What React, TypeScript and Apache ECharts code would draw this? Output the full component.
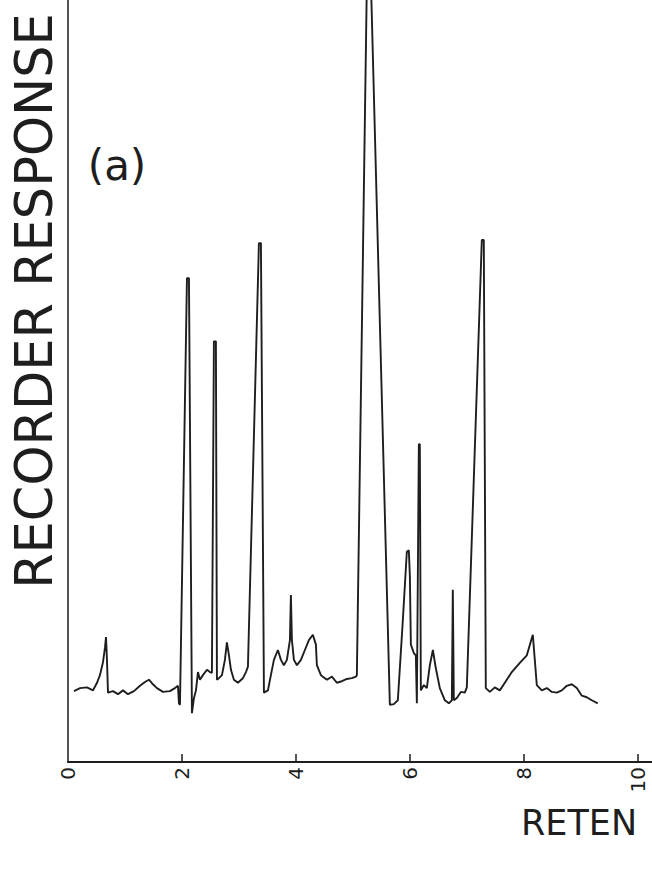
import React, { useEffect, useRef } from "react";
import * as echarts from "echarts";

// Retention time (x) and recorder response (y, arbitrary 0-100 units)
const retentionTime = [
  0.105, 0.211, 0.333, 0.439, 0.509, 0.561, 0.614, 0.649, 0.667, 0.684, 0.702, 0.789, 0.877, 0.965,
  1.053, 1.158, 1.263, 1.351, 1.421, 1.491, 1.561, 1.667, 1.789, 1.877, 1.93, 1.947, 1.965, 2.088,
  2.123, 2.175, 2.211, 2.246, 2.281, 2.316, 2.368, 2.439, 2.491, 2.526, 2.561, 2.596, 2.614, 2.649,
  2.702, 2.754, 2.789, 2.825, 2.86, 2.912, 2.982, 3.07, 3.123, 3.158, 3.351, 3.386, 3.439, 3.509,
  3.561, 3.614, 3.684, 3.737, 3.789, 3.842, 3.895, 3.912, 3.93, 3.965, 4.018, 4.088, 4.158, 4.228,
  4.298, 4.351, 4.368, 4.439, 4.544, 4.632, 4.719, 4.807, 4.895, 4.982, 5.053, 5.07, 5.246, 5.316,
  5.649, 5.719, 5.789, 5.877, 5.947, 5.982, 6.0, 6.018, 6.07, 6.105, 6.123, 6.158, 6.175, 6.193,
  6.246, 6.298, 6.351, 6.404, 6.456, 6.526, 6.614, 6.684, 6.737, 6.754, 6.772, 6.825, 6.895, 6.965,
  7.0, 7.263, 7.298, 7.333, 7.404, 7.491, 7.579, 7.667, 7.789, 7.93, 8.053, 8.158, 8.193, 8.228,
  8.316, 8.404, 8.491, 8.579, 8.667, 8.754, 8.842, 8.93, 9.018, 9.105, 9.193, 9.298,
];

const response = [
  9.3, 9.7, 9.8, 9.4, 10.4, 11.4, 13.1, 15.0, 16.4, 13.4, 9.1, 9.3, 8.9, 9.4,
  8.9, 9.3, 10.0, 10.5, 10.8, 10.2, 9.7, 9.2, 9.3, 9.7, 10.0, 7.7, 7.5, 63.5,
  63.5, 6.4, 8.4, 9.4, 11.8, 10.8, 11.4, 12.1, 11.8, 11.7, 55.2, 55.2, 10.8, 11.0,
  11.4, 13.4, 15.7, 14.0, 12.1, 10.8, 10.4, 11.0, 11.8, 12.5, 68.1, 68.1, 9.1, 9.4,
  11.4, 13.4, 14.7, 13.4, 12.7, 13.4, 16.0, 21.9, 16.0, 13.4, 12.7, 13.4, 14.7, 16.0,
  16.7, 15.4, 12.7, 11.4, 10.8, 11.2, 10.4, 10.6, 10.9, 11.0, 11.2, 11.4, 102.6, 102.6,
  7.5, 7.6, 8.1, 18.6, 27.6, 27.8, 24.5, 15.4, 14.3, 14.0, 7.7, 41.7, 41.7, 9.4,
  10.1, 9.7, 12.7, 14.7, 12.3, 9.7, 8.1, 7.7, 8.1, 22.6, 8.1, 8.4, 9.2, 9.1,
  9.8, 68.5, 68.5, 9.7, 9.2, 9.8, 9.4, 10.4, 11.8, 13.0, 14.0, 16.7, 13.4, 10.1,
  9.4, 9.7, 9.2, 9.1, 9.4, 10.0, 10.2, 9.7, 8.7, 8.5, 8.1, 7.7,
];

const xTickValues = [2, 4, 6, 8, 10];
const xLabelValues = [0, 2, 4, 6, 8, 10];

const yTitle = "RECORDER RESPONSE";
const xTitle = "RETEN";
const panelLabel = "(a)";

export default function App() {
  const ref = useRef<HTMLDivElement>(null);

  useEffect(() => {
    if (!ref.current) return;
    const chart = echarts.init(ref.current, null, { renderer: "svg" });
    const data = retentionTime.map((t, i) => [t, response[i]]);
    const ink = "#1e1e1e";
    chart.setOption({
      animation: false,
      backgroundColor: "#ffffff",
      grid: { left: 68, right: 0, top: 0, bottom: 125, containLabel: false },
      xAxis: {
        type: "value",
        min: 0,
        max: 10.25,
        splitLine: { show: false },
        axisLine: { show: true, lineStyle: { color: ink, width: 2 } },
        axisTick: {
          show: true,
          inside: true,
          length: 8,
          customValues: xTickValues,
          lineStyle: { color: ink, width: 1.5 },
        },
        axisLabel: {
          show: true,
          rotate: 90,
          margin: 5,
          customValues: xLabelValues,
          color: ink,
          fontSize: 20,
          fontFamily: "DejaVu Sans",
        },
      },
      yAxis: {
        type: "value",
        min: 0,
        max: 100,
        splitLine: { show: false },
        axisLine: { show: true, lineStyle: { color: ink, width: 1.5 } },
        axisTick: { show: false },
        axisLabel: { show: false },
      },
      series: [
        {
          type: "line",
          data,
          showSymbol: false,
          clip: true,
          lineStyle: { color: ink, width: 1.9 },
          itemStyle: { color: ink },
        },
      ],
      graphic: [
        {
          type: "text",
          x: 34,
          y: 301,
          rotation: Math.PI / 2,
          style: {
            text: yTitle,
            align: "center",
            verticalAlign: "middle",
            fontSize: 51,
            fontFamily: "DejaVu Sans",
            fill: ink,
          },
        },
        {
          type: "text",
          x: 117,
          y: 165,
          style: {
            text: panelLabel,
            align: "center",
            verticalAlign: "middle",
            fontSize: 42,
            fontFamily: "DejaVu Sans",
            fill: ink,
          },
        },
        {
          type: "text",
          x: 521,
          y: 823,
          style: {
            text: xTitle,
            align: "left",
            verticalAlign: "middle",
            fontSize: 35,
            fontFamily: "DejaVu Sans",
            fill: ink,
          },
        },
      ],
    });
    return () => chart.dispose();
  }, []);

  return (
    <div
      ref={ref}
      style={{ position: "fixed", left: 0, top: 0, width: 652, height: 887 }}
    />
  );
}
